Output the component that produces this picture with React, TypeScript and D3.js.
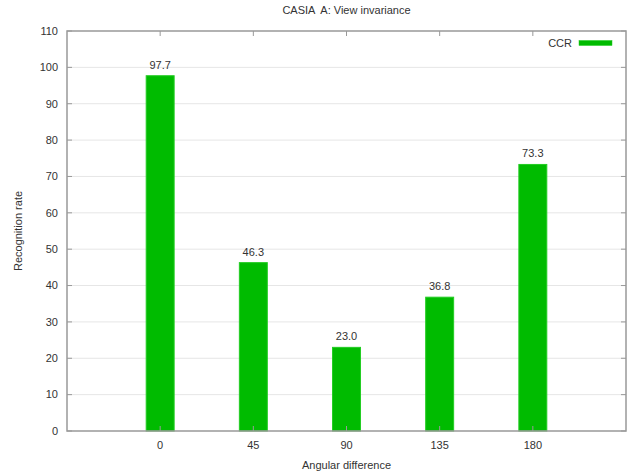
import { useMemo } from "react";
import { scaleLinear } from "d3";

const angles = ["0", "45", "90", "135", "180"];
const ccr = [97.7, 46.3, 23.0, 36.8, 73.3];
const yTicks = [0, 10, 20, 30, 40, 50, 60, 70, 80, 90, 100, 110];

const width = 628;
const height = 474;
const margin = { top: 31, right: 2, bottom: 43, left: 67 };
const font = "'Liberation Sans', Arial, sans-serif";
const textColor = "#333";
const axisColor = "#999";
const green = "#00bb00";

export default function App() {
  const innerWidth = width - margin.left - margin.right;
  const innerHeight = height - margin.top - margin.bottom;

  const xScale = useMemo(
    () => scaleLinear().domain([-1, 5]).range([0, innerWidth]),
    [innerWidth]
  );
  const yScale = useMemo(
    () => scaleLinear().domain([0, 110]).range([innerHeight, 0]),
    [innerHeight]
  );
  const barW = xScale(0.3) - xScale(0);

  return (
    <svg
      width={width}
      height={height}
      style={{ position: "absolute", left: 0, top: 0 }}
      fontFamily={font}
    >
      <rect width={width} height={height} fill="#fff" />
      <text
        x={margin.left + innerWidth / 2}
        y={14}
        textAnchor="middle"
        fontSize={11}
        fill={textColor}
        style={{ whiteSpace: "pre" }}
      >
        {"CASIA  A: View invariance"}
      </text>
      <g transform={`translate(${margin.left},${margin.top})`}>
        {/* grid */}
        {yTicks
          .filter((t) => t > 0 && t < 110)
          .map((t) => (
            <line
              key={"g" + t}
              x1={0}
              x2={innerWidth}
              y1={yScale(t)}
              y2={yScale(t)}
              stroke="#e6e6e6"
              strokeWidth={1}
            />
          ))}
        {/* bars */}
        {ccr.map((v, i) => (
          <g key={i}>
            <rect
              x={xScale(i) - barW / 2}
              y={yScale(v)}
              width={barW}
              height={innerHeight - yScale(v)}
              fill={green}
              stroke="#22cc22"
              strokeWidth={1}
            />
            <text
              x={xScale(i)}
              y={yScale(v) - 7}
              textAnchor="middle"
              fontSize={11}
              fill={textColor}
            >
              {v.toFixed(1)}
            </text>
          </g>
        ))}
        {/* y ticks */}
        {yTicks.map((t) => (
          <g key={"y" + t}>
            <line x1={0} x2={5} y1={yScale(t)} y2={yScale(t)} stroke={axisColor} />
            <line
              x1={innerWidth - 5}
              x2={innerWidth}
              y1={yScale(t)}
              y2={yScale(t)}
              stroke={axisColor}
            />
            <text
              x={-9}
              y={yScale(t)}
              dy="0.35em"
              textAnchor="end"
              fontSize={11}
              fill={textColor}
            >
              {t}
            </text>
          </g>
        ))}
        {/* x ticks */}
        {angles.map((a, i) => (
          <g key={"x" + a}>
            <line
              x1={xScale(i)}
              x2={xScale(i)}
              y1={innerHeight}
              y2={innerHeight - 5}
              stroke={axisColor}
            />
            <line x1={xScale(i)} x2={xScale(i)} y1={0} y2={5} stroke={axisColor} />
            <text
              x={xScale(i)}
              y={innerHeight + 14}
              dy="0.35em"
              textAnchor="middle"
              fontSize={11}
              fill={textColor}
            >
              {a}
            </text>
          </g>
        ))}
        <rect
          x={0}
          y={0}
          width={innerWidth}
          height={innerHeight}
          fill="none"
          stroke={axisColor}
          strokeWidth={1.5}
        />
        {/* legend */}
        <text
          x={innerWidth - 54}
          y={12}
          dy="0.35em"
          textAnchor="end"
          fontSize={11}
          fill={textColor}
        >
          CCR
        </text>
        <rect
          x={innerWidth - 47}
          y={9.5}
          width={33}
          height={5}
          fill={green}
          stroke="#22cc22"
          strokeWidth={0.5}
        />
      </g>
      <text
        x={margin.left + innerWidth / 2}
        y={469}
        textAnchor="middle"
        fontSize={11}
        fill={textColor}
      >
        Angular difference
      </text>
      <text
        transform={`translate(22,${margin.top + innerHeight / 2}) rotate(-90)`}
        textAnchor="middle"
        fontSize={11}
        fill={textColor}
      >
        Recognition rate
      </text>
    </svg>
  );
}
